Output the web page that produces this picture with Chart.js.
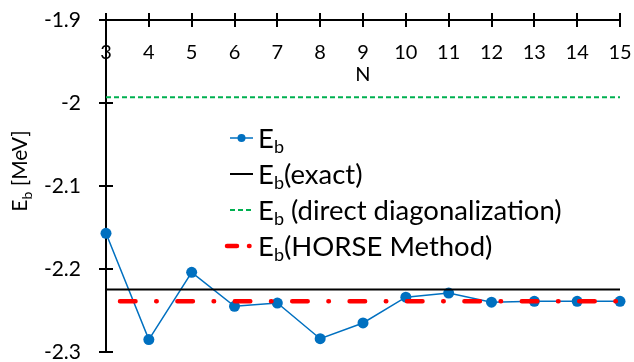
<!DOCTYPE html>
<html><head><meta charset="utf-8">
<script src="https://cdn.jsdelivr.net/npm/chart.js@4.4.0/dist/chart.umd.min.js"></script>
<style>html,body{margin:0;padding:0;background:#fff;}#wrap{width:634px;height:362px;position:relative;}</style>
</head><body><div id="wrap"><canvas id="c" width="634" height="362"></canvas></div>
<script>
// ---- data ----
const nValues = [3,4,5,6,7,8,9,10,11,12,13,14,15];
const ebValues = [-2.157,-2.285,-2.204,-2.245,-2.241,-2.284,-2.265,-2.234,-2.229,-2.240,-2.239,-2.239,-2.239];
const exactValue = -2.2246;
const directDiagValue = -1.993;
const horseValue = -2.239;
const yTicks = [-1.9,-2,-2.1,-2.2,-2.3];
const seriesLabels = ['E_b','E_b(exact)','E_b (direct diagonalization)','E_b(HORSE Method)'];
const yTitle = 'E_b [MeV]';
const xTitle = 'N';

const FONT = 'Lato';

function drawSubText(ctx, text, x, y, size, subSize, shift, align) {
  const m = text.match(/^(.*?)_(\w)(.*)$/);
  const parts = m ? [[m[1], false], [m[2], true], [m[3], false]] : [[text, false]];
  let total = 0;
  const widths = parts.map(([t, sub]) => { ctx.font = (sub ? subSize : size) + 'px ' + FONT; const w = ctx.measureText(t).width; total += w; return w; });
  let cx = align === 'center' ? x - total / 2 : x;
  ctx.textAlign = 'left';
  ctx.textBaseline = 'alphabetic';
  parts.forEach(([t, sub], i) => {
    ctx.font = (sub ? subSize : size) + 'px ' + FONT;
    ctx.fillText(t, cx, sub ? y + shift : y);
    cx += widths[i];
  });
}

const decor = {
  id: 'decor',
  afterDraw(chart) {
    const ctx = chart.ctx, xs = chart.scales.x, ys = chart.scales.y, a = chart.chartArea;
    ctx.save();
    // cross tick marks
    ctx.strokeStyle = '#000'; ctx.lineWidth = 2;
    xs.ticks.forEach(t => { const px = Math.round(xs.getPixelForValue(t.value)); ctx.beginPath(); ctx.moveTo(px, a.top - 7); ctx.lineTo(px, a.top + 7); ctx.stroke(); });
    ys.ticks.forEach(t => { const py = Math.round(ys.getPixelForValue(t.value)); ctx.beginPath(); ctx.moveTo(a.left - 7, py); ctx.lineTo(a.left + 7, py); ctx.stroke(); });
    ctx.fillStyle = '#000';
    // x title
    ctx.font = '20px ' + FONT; ctx.textAlign = 'center'; ctx.textBaseline = 'middle';
    ctx.fillText(xTitle, (a.left + a.right) / 2, 75);
    // y title
    ctx.save(); ctx.translate(27, 171); ctx.rotate(-Math.PI / 2);
    drawSubText(ctx, yTitle, 0, 0, 21, 14, 5, 'center');
    ctx.restore();
    // legend
    const rows = [138, 174, 210, 246];
    chart.data.datasets.forEach((ds, i) => {
      const y = rows[i];
      ctx.save();
      ctx.strokeStyle = ds.borderColor; ctx.lineWidth = ds.borderWidth;
      ctx.setLineDash(ds.legendDash || []);
      ctx.lineCap = ds.borderCapStyle || 'butt';
      ctx.beginPath(); ctx.moveTo(ds.legendX0 || 230, y); ctx.lineTo(ds.legendX1 || 253, y); ctx.stroke();
      if (ds.pointRadius > 0) { ctx.fillStyle = ds.pointBackgroundColor; ctx.beginPath(); ctx.arc(241.5, y, 4, 0, Math.PI * 2); ctx.fill(); }
      ctx.restore();
      ctx.fillStyle = '#000';
      drawSubText(ctx, ds.label, 258, y + 10, 27.5, 18, 5, 'left');
    });
    ctx.restore();
  }
};

new Chart(document.getElementById('c'), {
  type: 'line',
  data: {
    datasets: [
      { label: seriesLabels[0], data: nValues.map((n, i) => ({x: n, y: ebValues[i]})), borderColor: '#0070C0', backgroundColor: '#0070C0', pointBackgroundColor: '#0070C0', borderWidth: 1.5, pointRadius: 5.5, pointBorderWidth: 0, clip: false, order: 3 },
      { label: seriesLabels[1], data: nValues.map(n => ({x: n, y: exactValue})), borderColor: '#000000', borderWidth: 2, pointRadius: 0, order: 2 },
      { label: seriesLabels[2], data: nValues.map(n => ({x: n, y: directDiagValue})), borderColor: '#00B050', borderWidth: 2, borderDash: [5, 3], legendDash: [5, 3], pointRadius: 0, order: 1 },
      { label: seriesLabels[3], data: nValues.map(n => ({x: n, y: horseValue})), borderColor: '#FF0000', borderWidth: 4.5, borderDash: [15.5, 20.7, 0.5, 20.7], borderDashOffset: 43.4, borderCapStyle: 'round', legendDash: [10, 12, 0.5, 20], legendX0: 227, legendX1: 252, pointRadius: 0, order: 0 }
    ]
  },
  options: {
    responsive: false, animation: false, devicePixelRatio: 1,
    layout: { padding: { left: 0, right: 14, top: 0, bottom: 10 } },
    plugins: { legend: { display: false }, tooltip: { enabled: false } },
    scales: {
      x: {
        type: 'linear', position: 'top', min: 3, max: 15,
        afterBuildTicks: s => { s.ticks = nValues.map(v => ({value: v})); },
        afterFit: s => { s.height = 20; s.paddingLeft = 0; s.paddingRight = 0; s.paddingTop = 0; s.paddingBottom = 0; },
        grid: { display: false, drawTicks: false },
        border: { display: true, color: '#000', width: 2 },
        ticks: { mirror: true, padding: 21, color: '#000', font: { family: FONT, size: 20 }, callback: v => String(v), maxRotation: 0, autoSkip: false }
      },
      y: {
        type: 'linear', position: 'left', min: -2.3, max: -1.9,
        afterBuildTicks: s => { s.ticks = yTicks.map(v => ({value: v})); },
        afterFit: s => { s.width = 106; s.paddingTop = 0; s.paddingBottom = 0; s.paddingLeft = 0; s.paddingRight = 0; },
        grid: { display: false, drawTicks: false },
        border: { display: true, color: '#000', width: 2 },
        ticks: { padding: 25, color: '#000', font: { family: FONT, size: 21, lineHeight: 1 }, callback: v => String(v), autoSkip: false }
      }
    }
  },
  plugins: [decor]
});
</script></body></html>
